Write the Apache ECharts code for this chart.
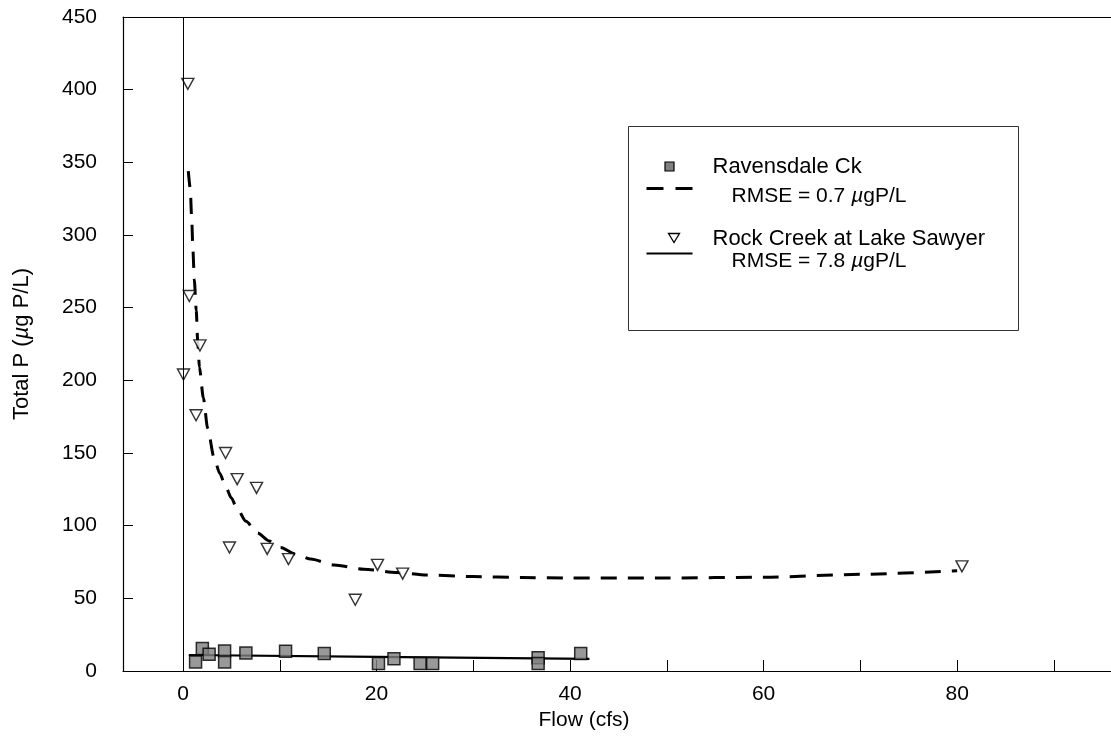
<!DOCTYPE html>
<html>
<head>
<meta charset="utf-8">
<script src="https://cdn.jsdelivr.net/npm/echarts@6/dist/echarts.min.js"></script>
<style>
  html, body { margin: 0; padding: 0; background: #fff; }
  #chart { width: 1111px; height: 753px; }
</style>
</head>
<body>
<div id="chart"></div>
<script>
// Rock Creek at Lake Sawyer: flow (cfs) vs total P (ug P/L)
const rockFlow = [0.5, 0.65, 1.75, 0.05, 1.35, 4.4, 5.6, 7.6, 4.8, 8.7, 10.9, 17.8, 20.1, 22.7, 80.5];
const rockTP   = [404, 258, 224, 204, 176, 150, 132, 126, 85, 84, 77, 49, 73, 67, 72];

// Ravensdale Ck: flow (cfs) vs total P (ug P/L)
const ravFlow = [1.3, 2.0, 2.7, 4.3, 4.3, 6.5, 10.6, 14.6, 20.2, 21.8, 24.5, 25.8, 36.7, 36.7, 41.1];
const ravTP   = [6.2, 15.4, 11.5, 13.8, 6.2, 12.4, 13.6, 12.0, 5.1, 8.4, 5.1, 5.1, 9.2, 5.1, 12.0];

// Fitted curve through the Rock Creek samples (dashed)
const fitDashFlow = [0.55, 0.75, 0.9, 1.03, 1.17, 1.37, 1.52, 1.7, 2.1, 2.55, 3.2, 3.8, 4.4, 5.0, 5.5, 6.5, 7.7, 8.9, 10.1, 11.6, 13.2, 15.6, 18.7, 22, 25.2, 30, 35, 40, 50, 60, 70, 80];
const fitDashTP   = [344, 332, 311, 289, 269, 248, 227, 209, 188, 167, 147, 136, 127, 119, 113, 103, 95, 89.5, 85, 80.5, 77, 73, 70, 67.8, 66, 65, 64.3, 64, 64, 64.5, 66.5, 69];

// Fitted line through the Ravensdale samples (solid)
const fitSolidFlow = [0.6, 20, 42];
const fitSolidTP   = [11.0, 9.7, 8.3];

// Axis ticks and labels
const xTickValues  = [0, 10, 20, 30, 40, 50, 60, 70, 80, 90];
const xLabelValues = [0, 20, 40, 60, 80];
const yMax = 450, yStep = 50;

const FONT = '"Liberation Sans", Arial, Helvetica, sans-serif';
const INK = '#000';
const FS = 21;

const pairs = (xs, ys) => xs.map((x, i) => [x, ys[i]]);

const chart = echarts.init(document.getElementById('chart'), null, { renderer: 'canvas' });

const legendFont = { fontFamily: FONT, fontSize: 22, fill: INK };
const rich = {
  n:  { fontFamily: FONT, fontSize: 21, color: INK },
  mu: { fontFamily: FONT, fontSize: 21, color: INK, fontStyle: 'italic' }
};

chart.setOption({
  animation: false,
  backgroundColor: '#fff',
  textStyle: { fontFamily: FONT, color: INK },
  grid: { left: 123, right: 0, top: 17, bottom: 82, containLabel: false, outerBoundsMode: 'none' },
  xAxis: [{
    type: 'value', min: -6.2, max: 95.9,
    name: 'Flow (cfs)', nameLocation: 'middle', nameGap: 36,
    // title sits a little left of the axis midpoint
    nameTextStyle: { fontFamily: FONT, fontSize: FS, color: INK, padding: [0, 66, 0, 0] },
    axisLine: { show: true, onZero: false, lineStyle: { color: INK, width: 1.2 } },
    axisTick: { show: true, inside: true, length: 11, customValues: xTickValues, lineStyle: { color: INK, width: 1 } },
    axisLabel: { customValues: xLabelValues, margin: 13, fontFamily: FONT, fontSize: FS, color: INK },
    splitLine: { show: false }
  }, {
    type: 'value', position: 'top', min: -6.2, max: 95.9,
    axisLine: { show: true, onZero: false, lineStyle: { color: INK, width: 1.2 } },
    axisTick: { show: false }, axisLabel: { show: false }, splitLine: { show: false }
  }],
  yAxis: {
    type: 'value', min: 0, max: yMax, interval: yStep,
    name: '{n|Total P (}{mu|µ}{n|g P/L)}', nameLocation: 'middle', nameGap: 90,
    nameTextStyle: { rich: { n: { fontFamily: FONT, fontSize: 22, color: INK }, mu: { fontFamily: FONT, fontSize: 22, color: INK, fontStyle: 'italic' } } },
    axisLine: { show: true, onZero: false, lineStyle: { color: INK, width: 1.2 } },
    axisTick: { show: true, inside: true, length: 10, lineStyle: { color: INK, width: 1 } },
    axisLabel: { margin: 26, fontFamily: FONT, fontSize: FS, color: INK },
    splitLine: { show: false }
  },
  series: [
    {
      name: 'fit-dashed', type: 'line', smooth: 0.25, smoothMonotone: 'x', showSymbol: false, z: 2,
      data: pairs(fitDashFlow, fitDashTP),
      lineStyle: { color: INK, width: 3, type: [16, 11] },
      markLine: {
        silent: true, symbol: 'none', label: { show: false },
        lineStyle: { color: INK, width: 1, type: 'solid' },
        data: [{ xAxis: 0 }]
      }
    },
    {
      name: 'fit-solid', type: 'line', showSymbol: false, z: 2,
      data: pairs(fitSolidFlow, fitSolidTP),
      lineStyle: { color: INK, width: 2.2 }
    },
    {
      name: 'Ravensdale Ck', type: 'scatter', symbol: 'rect', symbolSize: 12, z: 4,
      data: pairs(ravFlow, ravTP),
      itemStyle: { color: '#7f7f7f', borderColor: INK, borderWidth: 1.5 }
    },
    {
      name: 'Rock Creek at Lake Sawyer', type: 'scatter', symbol: 'triangle', symbolRotate: 180, symbolSize: [12, 11], z: 4,
      data: pairs(rockFlow, rockTP),
      itemStyle: { color: '#fff', borderColor: INK, borderWidth: 1.4 }
    }
  ],
  graphic: [{
    type: 'group', left: 628, top: 126,
    children: [
      { type: 'rect', shape: { x: 0, y: 0, width: 390, height: 204 }, style: { fill: '#fff', stroke: '#333', lineWidth: 1 } },
      { type: 'rect', shape: { x: 36.5, y: 35.5, width: 9, height: 9 }, style: { fill: '#7f7f7f', stroke: INK, lineWidth: 1.2 } },
      { type: 'text', x: 84, y: 40, style: Object.assign({ text: 'Ravensdale Ck', verticalAlign: 'middle' }, legendFont) },
      { type: 'line', shape: { x1: 18, y1: 62, x2: 64, y2: 62 }, style: { stroke: INK, lineWidth: 2.8, lineDash: [17, 12] } },
      { type: 'text', x: 103, y: 70, style: { text: '{n|RMSE = 0.7 }{mu|µ}{n|gP/L}', rich: rich, verticalAlign: 'middle' } },
      { type: 'polygon', shape: { points: [[40, 107], [51, 107], [45.5, 116]] }, style: { fill: '#fff', stroke: INK, lineWidth: 1.3 } },
      { type: 'text', x: 84, y: 112, style: Object.assign({ text: 'Rock Creek at Lake Sawyer', verticalAlign: 'middle' }, legendFont) },
      { type: 'line', shape: { x1: 18, y1: 127, x2: 64, y2: 127 }, style: { stroke: INK, lineWidth: 1.8 } },
      { type: 'text', x: 103, y: 135, style: { text: '{n|RMSE = 7.8 }{mu|µ}{n|gP/L}', rich: rich, verticalAlign: 'middle' } }
    ]
  }]
});
</script>
</body>
</html>
